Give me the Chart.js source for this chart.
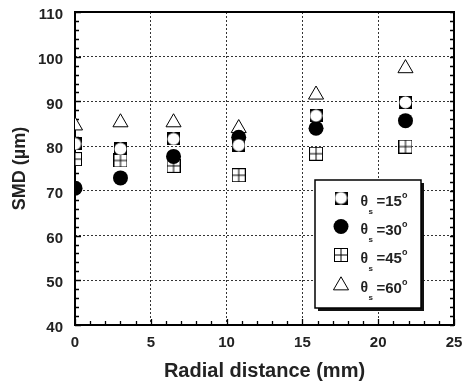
<!DOCTYPE html>
<html><head><meta charset="utf-8">
<script src="https://cdn.jsdelivr.net/npm/chart.js@4.4.0/dist/chart.umd.min.js"></script>
<style>html,body{margin:0;padding:0;background:#fff}#wrap{width:464px;height:383px}</style>
</head><body><div id="wrap"><canvas id="c" width="464" height="383"></canvas></div>
<script>
// ---- data ----
const radialDistance = [0, 3, 6.5, 10.8, 15.9, 21.8];
const smd15 = [80.5, 79.4, 81.6, 80.2, 86.8, 89.8];
const smd30 = [70.6, 72.9, 77.7, 82.0, 84.0, 85.7];
const smd45 = [77.1, 76.8, 75.6, 73.5, 78.3, 79.9];
const smd60 = [84.6, 85.3, 85.3, 84.0, 91.5, 97.4];
const angleLabels = ['15', '30', '45', '60'];
const xTicks = [0, 5, 10, 15, 20, 25];
const yTicks = [40, 50, 60, 70, 80, 90, 100, 110];

const FONT = '"Liberation Sans", Arial, sans-serif';
const INK = '#222';

// ---- marker images ----
function makeCanvas(w, h, draw) {
  const c = document.createElement('canvas'); c.width = w; c.height = h;
  draw(c.getContext('2d'), w, h); return c;
}
const squareCircle = makeCanvas(13, 13, (g, w, h) => {
  g.fillStyle = '#000'; g.fillRect(0, 0, w, h);
  g.fillStyle = '#fff'; g.beginPath(); g.arc(w / 2, h / 2, 6, 0, Math.PI * 2); g.fill();
});
const crossSquare = makeCanvas(14, 14, (g, w, h) => {
  g.strokeStyle = '#000'; g.lineWidth = 1;
  g.fillStyle = '#fff'; g.fillRect(0, 0, w, h);
  g.strokeRect(0.5, 0.5, w - 1, h - 1);
  g.beginPath(); g.moveTo(7, 0); g.lineTo(7, h); g.moveTo(0, 7); g.lineTo(w, 7); g.stroke();
});

const pointStyles = [squareCircle, 'circle', crossSquare, 'triangle'];
const seriesData = [smd15, smd30, smd45, smd60];

function toXY(ys) { return radialDistance.map((x, i) => ({ x: x, y: ys[i] })); }

const datasets = seriesData.map((ys, k) => ({
  label: angleLabels[k],
  data: toXY(ys),
  showLine: false,
  pointStyle: pointStyles[k],
  pointRadius: k === 1 ? 7.5 : (k === 3 ? 8.7 : 7),
  pointBackgroundColor: k === 3 ? '#fff' : '#000',
  pointBorderColor: '#000',
  pointBorderWidth: k === 1 ? 0 : 1,
}));

// ---- frame + inward ticks ----
const framePlugin = {
  id: 'frame',
  beforeDatasetsDraw(chart) {
    const { ctx, chartArea: a, scales: { x, y } } = chart;
    ctx.save();
    ctx.strokeStyle = '#000';
    ctx.lineWidth = 1.3;
    ctx.beginPath();
    for (let v = x.min; v <= x.max; v += 1) {
      const px = Math.round(x.getPixelForValue(v)) + 0.5;
      const len = v % 5 === 0 ? 6 : 4;
      ctx.moveTo(px, a.bottom); ctx.lineTo(px, a.bottom - len);
    }
    for (let v = y.min; v <= y.max; v += 2) {
      const py = Math.round(y.getPixelForValue(v)) + 0.5;
      const len = v % 10 === 0 ? 6 : 4;
      ctx.moveTo(a.left, py); ctx.lineTo(a.left + len, py);
      ctx.moveTo(a.right, py); ctx.lineTo(a.right - 4, py);
    }
    ctx.stroke();
    ctx.lineWidth = 2;
    ctx.strokeRect(a.left, a.top, a.right - a.left, a.bottom - a.top);
    ctx.restore();
  }
};

// ---- custom legend ----
const legendPlugin = {
  id: 'thetaLegend',
  afterDatasetsDraw(chart) {
    const ctx = chart.ctx;
    const bx = 315, by = 180, bw = 106, bh = 128;
    ctx.save();
    ctx.fillStyle = '#111';
    ctx.fillRect(bx + 3, by + 3, bw, bh);
    ctx.fillStyle = '#fff';
    ctx.fillRect(bx, by, bw, bh);
    ctx.strokeStyle = '#000'; ctx.lineWidth = 1.5;
    ctx.strokeRect(bx, by, bw, bh);
    const rows = [198, 226.5, 255, 284.5];
    const mx = 341;
    rows.forEach((yc, k) => {
      if (k === 0) ctx.drawImage(squareCircle, mx - 6.5, yc - 6.5);
      else if (k === 2) ctx.drawImage(crossSquare, mx - 7, yc - 7);
      else if (k === 1) {
        ctx.fillStyle = '#000'; ctx.beginPath(); ctx.arc(mx, yc, 7.5, 0, Math.PI * 2); ctx.fill();
      } else {
        const r = 8.7;
        ctx.fillStyle = '#fff'; ctx.strokeStyle = '#000'; ctx.lineWidth = 1;
        ctx.beginPath();
        for (let i = 0; i < 3; i++) {
          const ang = i * 2 * Math.PI / 3;
          const px = mx + Math.sin(ang) * r, py = yc + 1 - Math.cos(ang) * r;
          i ? ctx.lineTo(px, py) : ctx.moveTo(px, py);
        }
        ctx.closePath(); ctx.fill(); ctx.stroke();
      }
      const ty = yc + 4;
      ctx.fillStyle = INK;
      ctx.textBaseline = 'middle';
      ctx.textAlign = 'left';
      ctx.font = 'bold 14px ' + FONT;
      ctx.fillText('θ', 360.5, ty);
      ctx.font = 'bold 8px ' + FONT;
      ctx.fillText('s', 368.5, ty + 9.5);
      ctx.font = 'bold 15px ' + FONT;
      ctx.fillText('=' + angleLabels[k], 376.5, ty);
      const w = ctx.measureText('=' + angleLabels[k]).width;
      ctx.font = 'bold 9px ' + FONT;
      ctx.fillText('o', 376.5 + w, ty - 6);
    });
    ctx.restore();
  }
};

const gridColor = (c) => {
  const t = c.tick; const s = c.scale;
  if (!t) return 'rgba(0,0,0,0)';
  return (t.value === s.min || t.value === s.max) ? 'rgba(0,0,0,0)' : '#333';
};

new Chart(document.getElementById('c'), {
  type: 'scatter',
  data: { datasets },
  plugins: [framePlugin, legendPlugin],
  options: {
    responsive: false,
    devicePixelRatio: 1,
    animation: false,
    layout: { padding: { top: 12, right: 10, left: 0, bottom: 0 } },
    plugins: { legend: { display: false }, tooltip: { enabled: false } },
    scales: {
      x: {
        type: 'linear', min: 0, max: 25,
        afterBuildTicks: (s) => { s.ticks = xTicks.map(v => ({ value: v })); },
        afterFit: (s) => { s.height = 58; s.paddingLeft = 0; s.paddingRight = 0; s.paddingTop = 0; s.paddingBottom = 0; },
        ticks: { font: { family: FONT, size: 15, weight: 'bold' }, color: INK, padding: 9 },
        grid: { color: gridColor, lineWidth: 1, drawTicks: false },
        border: { display: false, dash: [2, 2] },
        title: { display: true, text: 'Radial distance (mm)', color: INK,
                 font: { family: FONT, size: 20, weight: 'bold' }, padding: { top: 4, bottom: 0 } }
      },
      y: {
        type: 'linear', min: 40, max: 110,
        afterBuildTicks: (s) => { s.ticks = yTicks.map(v => ({ value: v })); },
        afterFit: (s) => { s.width = 75; s.paddingLeft = 0; s.paddingRight = 0; s.paddingTop = 0; s.paddingBottom = 0; },
        ticks: { font: { family: FONT, size: 15, weight: 'bold' }, color: INK, padding: 12, labelOffset: 3 },
        grid: { color: gridColor, lineWidth: 1, drawTicks: false },
        border: { display: false, dash: [2, 2] },
        title: { display: true, text: 'SMD (µm)', color: INK,
                 font: { family: FONT, size: 18, weight: 'bold' }, padding: { top: 9, bottom: 0 } }
      }
    }
  }
});
</script></body></html>
